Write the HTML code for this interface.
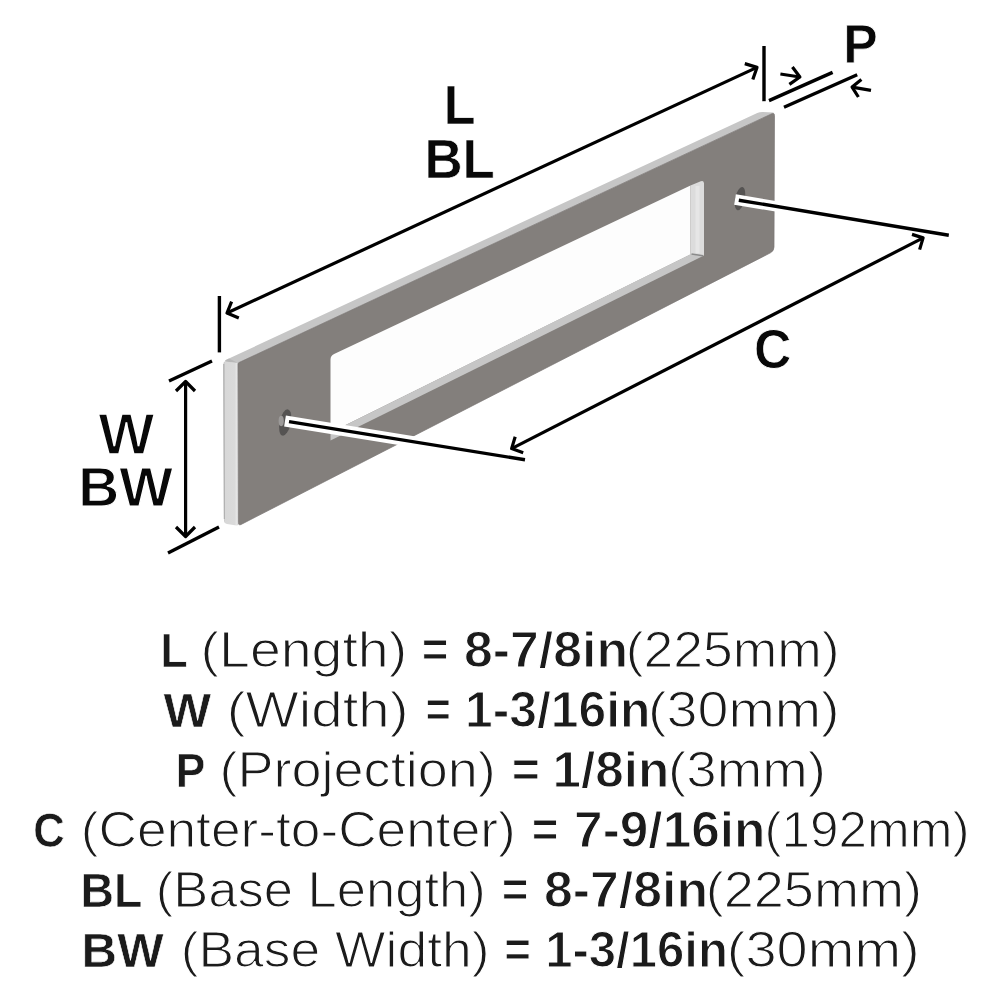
<!DOCTYPE html>
<html><head><meta charset="utf-8"><style>
html,body{margin:0;padding:0;background:#fff;width:1000px;height:1000px;overflow:hidden}
svg{display:block;will-change:transform}
text{font-family:"Liberation Sans",sans-serif}
</style></head><body>
<svg width="1000" height="1000" viewBox="0 0 1000 1000">
<defs>
<linearGradient id="lg" x1="0" x2="1" y1="0" y2="0">
<stop offset="0" stop-color="#c4c4c4"/><stop offset="0.12" stop-color="#d8d8d8"/><stop offset="0.75" stop-color="#dadada"/><stop offset="0.88" stop-color="#e6e6e6"/><stop offset="1" stop-color="#d0d0d0"/>
</linearGradient>
</defs>
<rect width="1000" height="1000" fill="#fff"/>
<path d="M238.00,363.00 L773.14,113.13 Q774.50,112.50 773.00,112.43 L763.00,111.94 Q760.00,111.80 757.28,113.06 L226.22,359.74 Q223.50,361.00 226.47,361.41 Z" fill="#c6c6c6"/>
<path d="M223.51,364.00 Q223.50,361.00 226.47,361.41 L238.00,363.00 L238.49,523.80 Q238.50,525.80 236.52,525.49 L226.96,523.97 Q224.00,523.50 223.99,520.50 Z" fill="url(#lg)"/>
<path d="M223.8,364 L224.3,519" stroke="#a9a9a9" stroke-width="1" fill="none"/>
<path d="M225,361.5 Q226,359.6 229,358.6 L238,363 Z" fill="#b4b4b4" opacity="0.8"/>
<path d="M238.00,364.00 Q238.00,363.00 238.91,362.58 L771.78,113.77 Q774.50,112.50 774.49,115.50 L774.01,247.00 Q774.00,251.00 770.44,252.83 L241.17,524.43 Q238.50,525.80 238.49,522.80 Z" fill="#837f7c" stroke="#7a7674" stroke-width="0.7"/>
<path d="M330.50,359.80 Q330.50,355.80 334.12,354.09 L690.50,185.60 L690.50,254.40 L330.50,432.60 Z" fill="#fdfdfd"/>
<polygon points="330.5,440.6 704,255.5 690.5,254.2 330.5,432.4" fill="#c6c6c6"/>
<path d="M690.50,185.60 L700.78,181.26 Q704.00,179.90 704.00,183.40 L704.00,254.50 Q704.00,256.00 702.51,255.85 L690.50,254.60 Z" fill="#dcdcdc"/>
<line x1="697.5" y1="186" x2="697.5" y2="253" stroke="#e6e6e6" stroke-width="4"/>
<line x1="691.5" y1="254" x2="703" y2="255.8" stroke="#8a8a8a" stroke-width="1.6"/>
<!-- holes -->
<ellipse cx="285.2" cy="422.5" rx="5.6" ry="13.4" fill="#555352" transform="rotate(12 285.2 422.5)"/>
<ellipse cx="281.2" cy="421" rx="2.6" ry="5.2" fill="#9c9a99"/>
<ellipse cx="740" cy="198.6" rx="4.8" ry="11.8" fill="#555352" transform="rotate(12 740 198.6)"/>
<!-- extension lines from holes -->
<g stroke-linecap="butt">
<line x1="285" y1="421" x2="525" y2="459.8" stroke="#fff" stroke-width="11"/>
<line x1="289" y1="421.6" x2="525" y2="459.8" stroke="#000" stroke-width="3.4"/>
<line x1="735" y1="199.5" x2="948.8" y2="235.2" stroke="#fff" stroke-width="10.5"/>
<line x1="738.8" y1="200.2" x2="948.8" y2="235.2" stroke="#000" stroke-width="3.4"/>
</g>
<g stroke="#000" fill="none" stroke-linecap="butt" stroke-linejoin="round">
<!-- L dimension -->
<line x1="219.4" y1="296" x2="219.4" y2="352.4" stroke-width="3.4"/>
<line x1="764" y1="46" x2="764" y2="101.2" stroke-width="3.4"/>
<line x1="227.0" y1="313.0" x2="757.0" y2="67.4" stroke-width="3.2"/>
<polyline points="231.6,301.6 227.0,313.0 238.8,318" stroke-width="3.2"/>
<polyline points="744.8,63.6 757.0,67.4 752.8,79.6" stroke-width="3.2"/>
<!-- P -->
<line x1="769" y1="100.6" x2="832.6" y2="72.4" stroke-width="3.4"/>
<line x1="784" y1="107.2" x2="857.2" y2="74.8" stroke-width="3.4"/>
<line x1="780.4" y1="74" x2="799.9" y2="77.0" stroke-width="3.2"/>
<polyline points="792.4,67 799.9,77.0 789.4,84.4" stroke-width="3.2"/>
<line x1="871" y1="90.4" x2="852.1" y2="87.1" stroke-width="3.2"/>
<polyline points="861.4,79.6 852.1,87.1 858.4,97" stroke-width="3.2"/>
<!-- C -->
<line x1="511.6" y1="448.6" x2="923.1" y2="237.9" stroke-width="3.2"/>
<polyline points="515.2,436.7 511.6,448.6 523.2,452.8" stroke-width="3.2"/>
<polyline points="912,234.4 923.1,237.9 919.6,249.6" stroke-width="3.2"/>
<!-- W -->
<line x1="169" y1="381" x2="212" y2="361" stroke-width="3.4"/>
<line x1="168" y1="553" x2="219" y2="527" stroke-width="3.4"/>
<line x1="185.6" y1="381.5" x2="185.6" y2="536.5" stroke-width="3.2"/>
<polyline points="176,391 185.6,381.5 195,391" stroke-width="3.2"/>
<polyline points="176,527 185.6,536.5 195,527" stroke-width="3.2"/>
</g>
<text transform="translate(160.42 666.80) scale(0.9178 1)" font-size="48.40" font-weight="bold" fill="#1b1b1b" stroke="#fff" stroke-width="0.6">L</text>
<text transform="translate(200.57 667.08) scale(1.1275 1)" font-size="49.20" font-weight="normal" fill="#1b1b1b" stroke="#fff" stroke-width="1.15">(Length)</text>
<text transform="translate(421.77 667.05) scale(0.9316 1)" font-size="49.13" font-weight="bold" fill="#1b1b1b" stroke="#fff" stroke-width="1.1">=</text>
<text transform="translate(464.08 667.05) scale(1.0535 1)" font-size="49.13" font-weight="bold" fill="#1b1b1b" stroke="#fff" stroke-width="1.1">8-7/8in</text>
<text transform="translate(625.67 667.08) scale(1.0869 1)" font-size="49.20" font-weight="normal" fill="#1b1b1b" stroke="#fff" stroke-width="1.15">(225mm)</text>
<text transform="translate(163.45 726.80) scale(1.0427 1)" font-size="48.40" font-weight="bold" fill="#1b1b1b" stroke="#fff" stroke-width="0.6">W</text>
<text transform="translate(226.78 727.08) scale(1.1462 1)" font-size="49.20" font-weight="normal" fill="#1b1b1b" stroke="#fff" stroke-width="1.15">(Width)</text>
<text transform="translate(425.60 727.05) scale(0.8823 1)" font-size="49.13" font-weight="bold" fill="#1b1b1b" stroke="#fff" stroke-width="1.1">=</text>
<text transform="translate(465.09 727.05) scale(1.0132 1)" font-size="49.13" font-weight="bold" fill="#1b1b1b" stroke="#fff" stroke-width="1.1">1-3/16in</text>
<text transform="translate(648.07 727.08) scale(1.1309 1)" font-size="49.20" font-weight="normal" fill="#1b1b1b" stroke="#fff" stroke-width="1.15">(30mm)</text>
<text transform="translate(175.68 786.80) scale(0.9149 1)" font-size="48.40" font-weight="bold" fill="#1b1b1b" stroke="#fff" stroke-width="0.6">P</text>
<text transform="translate(219.39 787.08) scale(1.0991 1)" font-size="49.20" font-weight="normal" fill="#1b1b1b" stroke="#fff" stroke-width="1.15">(Projection)</text>
<text transform="translate(511.69 787.05) scale(0.9810 1)" font-size="49.13" font-weight="bold" fill="#1b1b1b" stroke="#fff" stroke-width="1.1">=</text>
<text transform="translate(552.50 787.05) scale(1.0431 1)" font-size="49.13" font-weight="bold" fill="#1b1b1b" stroke="#fff" stroke-width="1.1">1/8in</text>
<text transform="translate(668.11 787.08) scale(1.1104 1)" font-size="49.20" font-weight="normal" fill="#1b1b1b" stroke="#fff" stroke-width="1.15">(3mm)</text>
<text transform="translate(33.33 846.90) scale(0.9025 1)" font-size="48.40" font-weight="bold" fill="#1b1b1b" stroke="#fff" stroke-width="0.6">C</text>
<text transform="translate(80.68 847.18) scale(1.0827 1)" font-size="49.20" font-weight="normal" fill="#1b1b1b" stroke="#fff" stroke-width="1.15">(Center-to-Center)</text>
<text transform="translate(531.77 847.15) scale(0.9316 1)" font-size="49.13" font-weight="bold" fill="#1b1b1b" stroke="#fff" stroke-width="1.1">=</text>
<text transform="translate(574.09 847.15) scale(1.0464 1)" font-size="49.13" font-weight="bold" fill="#1b1b1b" stroke="#fff" stroke-width="1.1">7-9/16in</text>
<text transform="translate(764.52 847.18) scale(1.0413 1)" font-size="49.20" font-weight="normal" fill="#1b1b1b" stroke="#fff" stroke-width="1.15">(192mm)</text>
<text transform="translate(80.55 906.90) scale(0.9577 1)" font-size="48.40" font-weight="bold" fill="#1b1b1b" stroke="#fff" stroke-width="0.6">BL</text>
<text transform="translate(155.71 907.18) scale(1.0680 1)" font-size="49.20" font-weight="normal" fill="#1b1b1b" stroke="#fff" stroke-width="1.15">(Base Length)</text>
<text transform="translate(501.77 907.15) scale(0.9316 1)" font-size="49.13" font-weight="bold" fill="#1b1b1b" stroke="#fff" stroke-width="1.1">=</text>
<text transform="translate(544.08 907.15) scale(1.0535 1)" font-size="49.13" font-weight="bold" fill="#1b1b1b" stroke="#fff" stroke-width="1.1">8-7/8in</text>
<text transform="translate(705.64 907.18) scale(1.0999 1)" font-size="49.20" font-weight="normal" fill="#1b1b1b" stroke="#fff" stroke-width="1.15">(225mm)</text>
<text transform="translate(81.62 967.00) scale(1.0165 1)" font-size="48.40" font-weight="bold" fill="#1b1b1b" stroke="#fff" stroke-width="0.6">BW</text>
<text transform="translate(180.67 967.28) scale(1.0864 1)" font-size="49.20" font-weight="normal" fill="#1b1b1b" stroke="#fff" stroke-width="1.15">(Base Width)</text>
<text transform="translate(504.27 967.25) scale(0.9316 1)" font-size="49.13" font-weight="bold" fill="#1b1b1b" stroke="#fff" stroke-width="1.1">=</text>
<text transform="translate(545.13 967.25) scale(0.9991 1)" font-size="49.13" font-weight="bold" fill="#1b1b1b" stroke="#fff" stroke-width="1.1">1-3/16in</text>
<text transform="translate(726.80 967.28) scale(1.1384 1)" font-size="49.20" font-weight="normal" fill="#1b1b1b" stroke="#fff" stroke-width="1.15">(30mm)</text>
<text transform="translate(443.75 124.20) scale(0.9406 1)" font-size="55.23" font-weight="bold" fill="#080808" stroke="#fff" stroke-width="0.4">L</text>
<text transform="translate(424.40 177.90) scale(0.9512 1)" font-size="55.52" font-weight="bold" fill="#080808" stroke="#fff" stroke-width="0.6">BL</text>
<text transform="translate(843.17 63.00) scale(0.9291 1)" font-size="55.67" font-weight="bold" fill="#080808" stroke="#fff" stroke-width="0.8">P</text>
<text transform="translate(753.98 368.20) scale(0.9378 1)" font-size="55.23" font-weight="bold" fill="#080808" stroke="#fff" stroke-width="0.8">C</text>
<text transform="translate(98.20 453.60) scale(1.0406 1)" font-size="57.27" font-weight="bold" fill="#080808" stroke="#fff" stroke-width="1.6">W</text>
<text transform="translate(78.25 506.20) scale(1.0176 1)" font-size="55.81" font-weight="bold" fill="#080808" stroke="#fff" stroke-width="1.2">BW</text>
</svg>
</body></html>
